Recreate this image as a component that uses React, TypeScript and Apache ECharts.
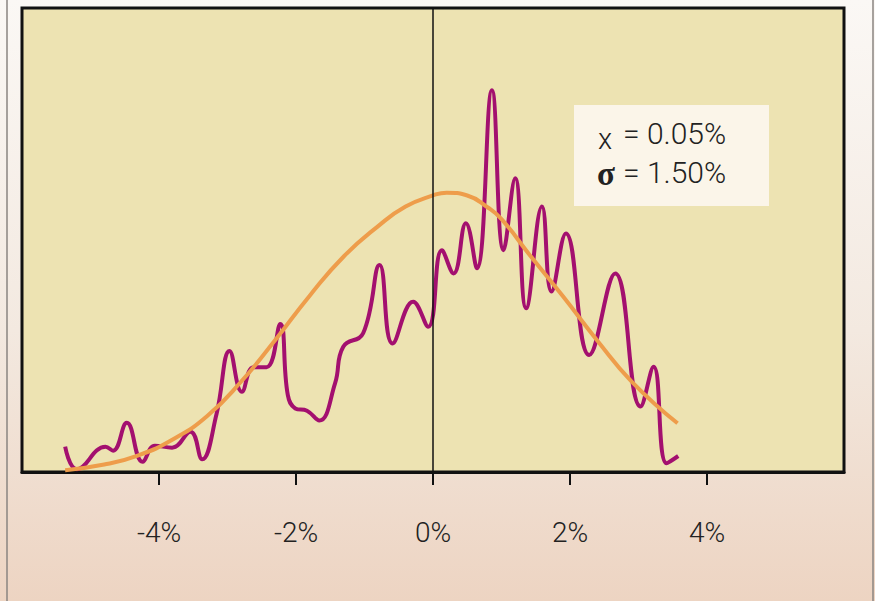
import React, { useEffect, useRef } from "react";
import * as echarts from "echarts";

// Observed monthly return distribution (return in %, relative frequency)
const returnPct = [
  -5.37, -5.2, -4.78, -4.67, -4.47, -4.24, -4.06, -3.81, -3.54, -3.37, -3.16, -2.97,
  -2.79, -2.62, -2.43, -2.23, -2.12, -2.01, -1.84, -1.66, -1.43, -1.31, -1.02, -0.78,
  -0.59, -0.29, -0.07, 0.13, 0.3, 0.48, 0.64, 0.86, 1.03, 1.2, 1.36, 1.59, 1.73, 1.94,
  2.28, 2.66, 3.03, 3.22, 3.41, 3.58,
];
const frequency = [
  5.45, 0.6, 5.45, 4.6, 10.6, 2.2, 5.67, 5.24, 8.69, 2.74, 12.5, 26.1,
  17.3, 22.6, 22.6, 31.9, 16.6, 13.7, 13.2, 11.1, 19.1, 27.0, 29.9, 44.6,
  27.7, 36.7, 31.3, 47.8, 42.8, 53.6, 43.9, 82.3, 47.8, 63.3, 35.3, 57.2, 38.9, 51.4,
  25.2, 42.8, 14.1, 22.7, 1.9, 3.45,
];

// Fitted normal curve
const fitPct = [
  -5.37, -4.8, -4.3, -3.8, -3.3, -2.8, -2.3, -1.8, -1.3, -0.8, -0.4,
  0.0, 0.2, 0.5, 0.8, 1.0, 1.4, 1.9, 2.4, 2.9, 3.57,
];
const fitDensity = [
  0.4, 1.6, 3.6, 7.0, 12.0, 19.5, 28.5, 38.0, 46.5, 53.0, 57.2,
  59.6, 60.2, 59.6, 57.0, 54.5, 47.0, 37.8, 28.3, 19.5, 10.5,
];

const meanLabel = "= 0.05%";
const sigmaLabel = "= 1.50%";

export default function App() {
  const ref = useRef<HTMLDivElement>(null);

  useEffect(() => {
    const chart = echarts.init(ref.current!, null, { renderer: "svg" });
    const observed = returnPct.map((x, i) => [x, frequency[i]]);
    const fitted = fitPct.map((x, i) => [x, fitDensity[i]]);

    chart.setOption({
      animation: false,
      backgroundColor: "transparent",
      grid: {
        left: 22,
        right: 31,
        top: 8,
        bottom: 129,
        show: true,
        backgroundColor: "#EDE3B2",
        borderColor: "#111",
        borderWidth: 3,
      },
      xAxis: {
        type: "value",
        min: -6,
        max: 6,
        interval: 2,
        axisLine: { show: true, onZero: false, lineStyle: { color: "#111", width: 3 } },
        axisTick: { show: true, length: 13, lineStyle: { color: "#111", width: 2 } },
        splitLine: { show: false },
        axisLabel: {
          showMinLabel: false,
          showMaxLabel: false,
          formatter: (v: number) => `${v}%`,
          fontFamily: "Roboto",
          fontWeight: 300,
          fontSize: 28,
          color: "#222",
          margin: 46,
        },
      },
      yAxis: { type: "value", min: 0, max: 100, show: false },
      series: [
        {
          type: "line",
          data: observed,
          smooth: 0.45,
          showSymbol: false,
          lineStyle: { color: "#A3106F", width: 4 },
          markLine: {
            silent: true,
            symbol: "none",
            label: { show: false },
            lineStyle: { color: "#111", width: 1.5, type: "solid" },
            data: [{ xAxis: 0 }],
          },
          z: 2,
        },
        {
          type: "line",
          data: fitted,
          smooth: 0.5,
          showSymbol: false,
          lineStyle: { color: "#EE9D4B", width: 4 },
          z: 3,
        },
      ],
      graphic: [
        { type: "line", shape: { x1: 7, y1: 0, x2: 7, y2: 601 }, style: { stroke: "#8a8580", lineWidth: 1.5 } },
        { type: "line", shape: { x1: 873, y1: 0, x2: 873, y2: 601 }, style: { stroke: "#8a8580", lineWidth: 1.5 } },
        {
          type: "rect",
          shape: { x: 574, y: 105, width: 195, height: 101 },
          style: { fill: "#FBF5E9" },
          z: 10,
        },
        {
          type: "text",
          x: 598,
          y: 139,
          z: 11,
          style: { text: "x", font: "300 29px Roboto", fill: "#222", verticalAlign: "middle" },
        },
        {
          type: "text",
          x: 623,
          y: 133,
          z: 11,
          style: { text: meanLabel, font: "300 30px Roboto", fill: "#222", verticalAlign: "middle" },
        },
        {
          type: "text",
          x: 597,
          y: 174,
          z: 11,
          style: { text: "σ", font: "bold 33px 'Liberation Serif'", fill: "#222", verticalAlign: "middle" },
        },
        {
          type: "text",
          x: 623,
          y: 172,
          z: 11,
          style: { text: sigmaLabel, font: "300 30px Roboto", fill: "#222", verticalAlign: "middle" },
        },
      ],
    });
    return () => chart.dispose();
  }, []);

  return (
    <div
      ref={ref}
      style={{
        position: "fixed",
        left: 0,
        top: 0,
        width: 875,
        height: 601,
        background: "linear-gradient(to bottom, #FBF8F5 0%, #F3E9E0 55%, #EDD4C2 100%)",
      }}
    />
  );
}
